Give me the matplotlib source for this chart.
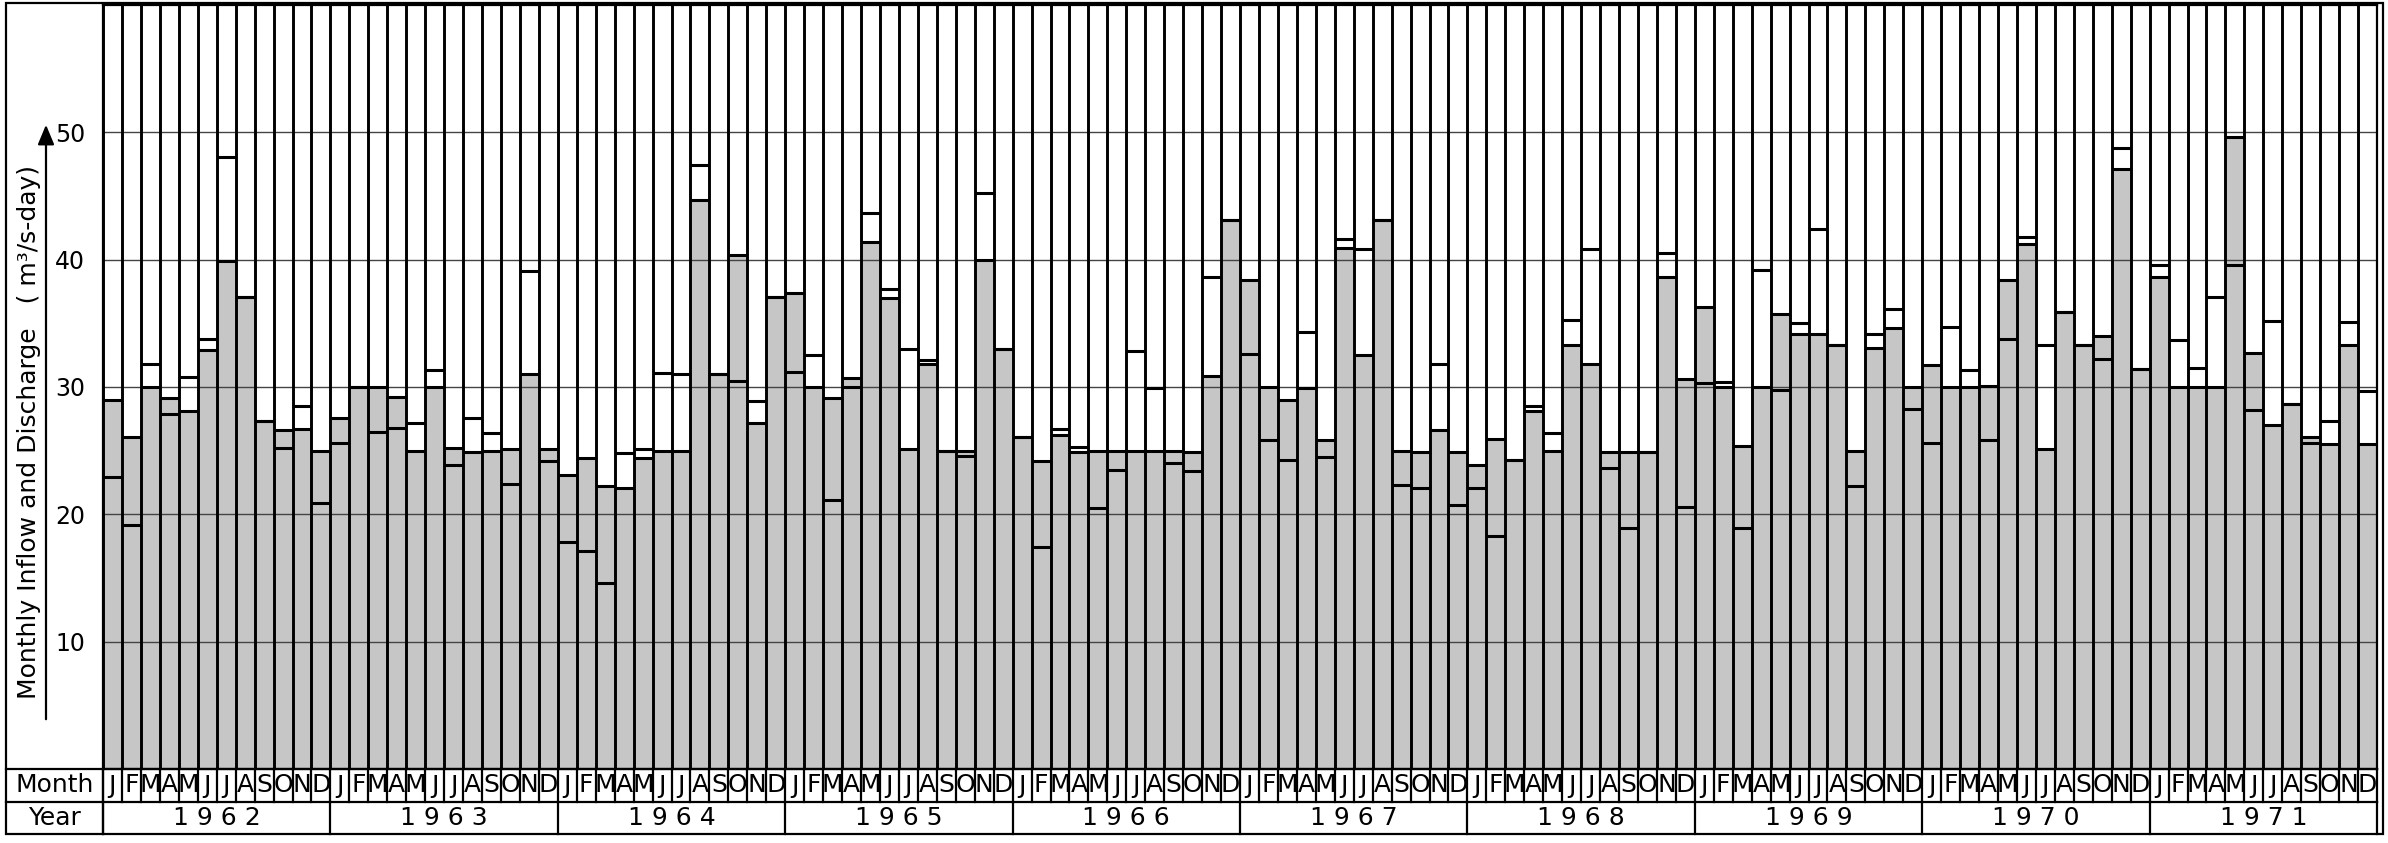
import numpy as np
import matplotlib
matplotlib.use('Agg')
import matplotlib.pyplot as plt
from matplotlib.transforms import blended_transform_factory
from matplotlib.lines import Line2D
from matplotlib.patches import Rectangle, FancyArrowPatch

# ---------------- data ----------------
years = ['1962', '1963', '1964', '1965', '1966', '1967', '1968', '1969', '1970', '1971']
month_letters = ['J', 'F', 'M', 'A', 'M', 'J', 'J', 'A', 'S', 'O', 'N', 'D']

# gray-filled bars (discharge)
discharge = [
    29.0, 26.1, 30.0, 29.1, 28.1, 32.9, 39.9, 37.1, 27.3, 26.6, 26.7, 25.0,   # 1962
    27.6, 30.0, 30.0, 29.2, 25.0, 30.0, 25.2, 24.9, 25.0, 25.1, 31.0, 25.1,   # 1963
    23.1, 24.4, 22.2, 22.1, 24.4, 25.0, 25.0, 44.7, 31.0, 40.4, 27.2, 37.1,   # 1964
    37.4, 30.0, 29.1, 30.7, 41.4, 37.0, 25.1, 31.8, 25.0, 25.0, 40.0, 33.0,   # 1965
    26.1, 24.2, 26.2, 24.9, 25.0, 25.0, 25.0, 25.0, 25.0, 24.9, 30.9, 43.1,   # 1966
    38.4, 30.0, 29.0, 29.9, 25.8, 40.9, 32.5, 43.1, 25.0, 24.9, 26.6, 24.9,   # 1967
    23.9, 25.9, 24.3, 28.1, 25.0, 33.3, 31.8, 24.9, 24.9, 24.9, 38.6, 30.6,   # 1968
    36.3, 30.0, 25.4, 30.0, 35.7, 34.2, 34.2, 33.3, 25.0, 33.1, 34.6, 30.0,   # 1969
    31.7, 30.0, 30.0, 30.1, 38.4, 41.2, 25.1, 35.9, 33.3, 34.0, 47.1, 31.4,   # 1970
    38.6, 30.0, 30.0, 30.0, 49.6, 32.7, 27.0, 28.7, 26.1, 25.5, 33.3, 25.5,   # 1971
]
# outlined levels (inflow)
inflow = [
    22.9, 19.2, 31.8, 27.9, 30.8, 33.8, 48.1, 37.1, 27.3, 25.2, 28.5, 20.9,   # 1962
    25.6, 30.0, 26.5, 26.8, 27.2, 31.3, 23.9, 27.6, 26.4, 22.4, 39.1, 24.2,   # 1963
    17.8, 17.1, 14.6, 24.8, 25.1, 31.1, 31.0, 47.4, 31.0, 30.5, 28.9, 37.1,   # 1964
    31.2, 32.5, 21.1, 30.0, 43.7, 37.7, 33.0, 32.1, 25.0, 24.6, 45.2, 33.0,   # 1965
    26.1, 17.4, 26.7, 25.3, 20.5, 23.5, 32.8, 29.9, 24.0, 23.4, 38.6, 43.1,   # 1966
    32.6, 25.8, 24.3, 34.3, 24.5, 41.6, 40.8, 43.1, 22.3, 22.1, 31.8, 20.7,   # 1967
    22.1, 18.3, 24.3, 28.5, 26.4, 35.3, 40.8, 23.6, 18.9, 24.9, 40.5, 20.6,   # 1968
    30.3, 30.4, 18.9, 39.2, 29.8, 35.0, 42.4, 33.3, 22.2, 34.2, 36.1, 28.3,   # 1969
    25.6, 34.7, 31.3, 25.8, 33.8, 41.8, 33.3, 35.9, 33.3, 32.2, 48.8, 31.4,   # 1970
    39.6, 33.7, 31.5, 37.1, 39.6, 28.2, 35.2, 28.7, 25.6, 27.3, 35.1, 29.7,   # 1971
]
ytick_values = [10, 20, 30, 40, 50]
ylabel_text = 'Monthly Inflow and Discharge   ( m³/s-day)'

# ---------------- layout ----------------
W, H = 2388, 843
fig = plt.figure(figsize=(W / 100, H / 100), dpi=100)
fig.patch.set_facecolor('white')

def fx(px):
    return px / W

def fy(py):
    return 1 - py / H

L, R, T, B = 103, 2377, 5, 769      # plot area in pixels
ROW1, ROW2 = 802, 834               # month row bottom, year row bottom
LEFT_BORDER = 6

ax = fig.add_axes([fx(L), fy(B), fx(R - L), fy(T) - fy(B)])
n = len(discharge)
x = np.arange(n)

GRAY = '#c6c6c6'
ax.bar(x, discharge, width=1, align='edge', color=GRAY, edgecolor='none', zorder=1)
for v in ytick_values:
    ax.axhline(v, color='#444444', lw=1.0, zorder=2)
ax.hlines(discharge, x, x + 1, colors='black', lw=2.2, zorder=3)
ax.hlines(inflow, x, x + 1, colors='black', lw=2.2, zorder=3)
ax.vlines(np.arange(n + 1), 0, 60, colors='black', lw=2.1, zorder=4)

ax.set_xlim(0, n)
ax.set_ylim(0, 60)
ax.set_xticks([])
ax.set_yticks(ytick_values)
ax.set_yticklabels([str(v) for v in ytick_values])
ax.tick_params(axis='y', length=0, pad=13, labelsize=17)
for s in ax.spines.values():
    s.set_linewidth(1.6)

# ---------------- table below ----------------
trans = blended_transform_factory(ax.transData, fig.transFigure)
ymid_month = fy((B + ROW1) / 2)
ymid_year = fy((ROW1 + ROW2) / 2)
for i in range(n):
    ax.text(i + 0.5, ymid_month, month_letters[i % 12], transform=trans,
            ha='center', va='center', fontsize=18, clip_on=False)
for i in range(n + 1):
    ax.add_line(Line2D([i, i], [fy(B), fy(ROW1)], transform=trans,
                       color='black', lw=1.6, clip_on=False))
for k, yr in enumerate(years):
    ax.text(12 * k + 6, ymid_year, ' '.join(yr), transform=trans,
            ha='center', va='center', fontsize=18, clip_on=False)
for k in range(len(years) + 1):
    ax.add_line(Line2D([12 * k, 12 * k], [fy(ROW1), fy(ROW2)], transform=trans,
                       color='black', lw=1.6, clip_on=False))

# horizontal table lines
for yy in (B, ROW1):
    fig.add_artist(Line2D([fx(LEFT_BORDER), fx(R)], [fy(yy), fy(yy)],
                          color='black', lw=1.6))
fig.add_artist(Line2D([fx(L), fx(L)], [fy(B), fy(ROW2)], color='black', lw=1.6))

# left column labels
fig.text(fx((LEFT_BORDER + L) / 2), ymid_month, 'Month', ha='center', va='center', fontsize=18)
fig.text(fx((LEFT_BORDER + L) / 2), ymid_year, 'Year', ha='center', va='center', fontsize=18)

# outer border
fig.add_artist(Rectangle((fx(LEFT_BORDER), fy(ROW2)), fx(2383 - LEFT_BORDER), fy(3) - fy(ROW2),
                         fill=False, edgecolor='black', lw=1.6))

# y label with arrow
fig.text(fx(29), fy(432), ylabel_text, rotation=90, ha='center', va='center', fontsize=18)
fig.add_artist(FancyArrowPatch(
    (fx(46), fy(722)), (fx(46), fy(122)), transform=fig.transFigure,
    arrowstyle='-|>,head_length=6,head_width=2.5', color='black', lw=1.6,
    mutation_scale=2))

fig.savefig('out.png', dpi=100)
